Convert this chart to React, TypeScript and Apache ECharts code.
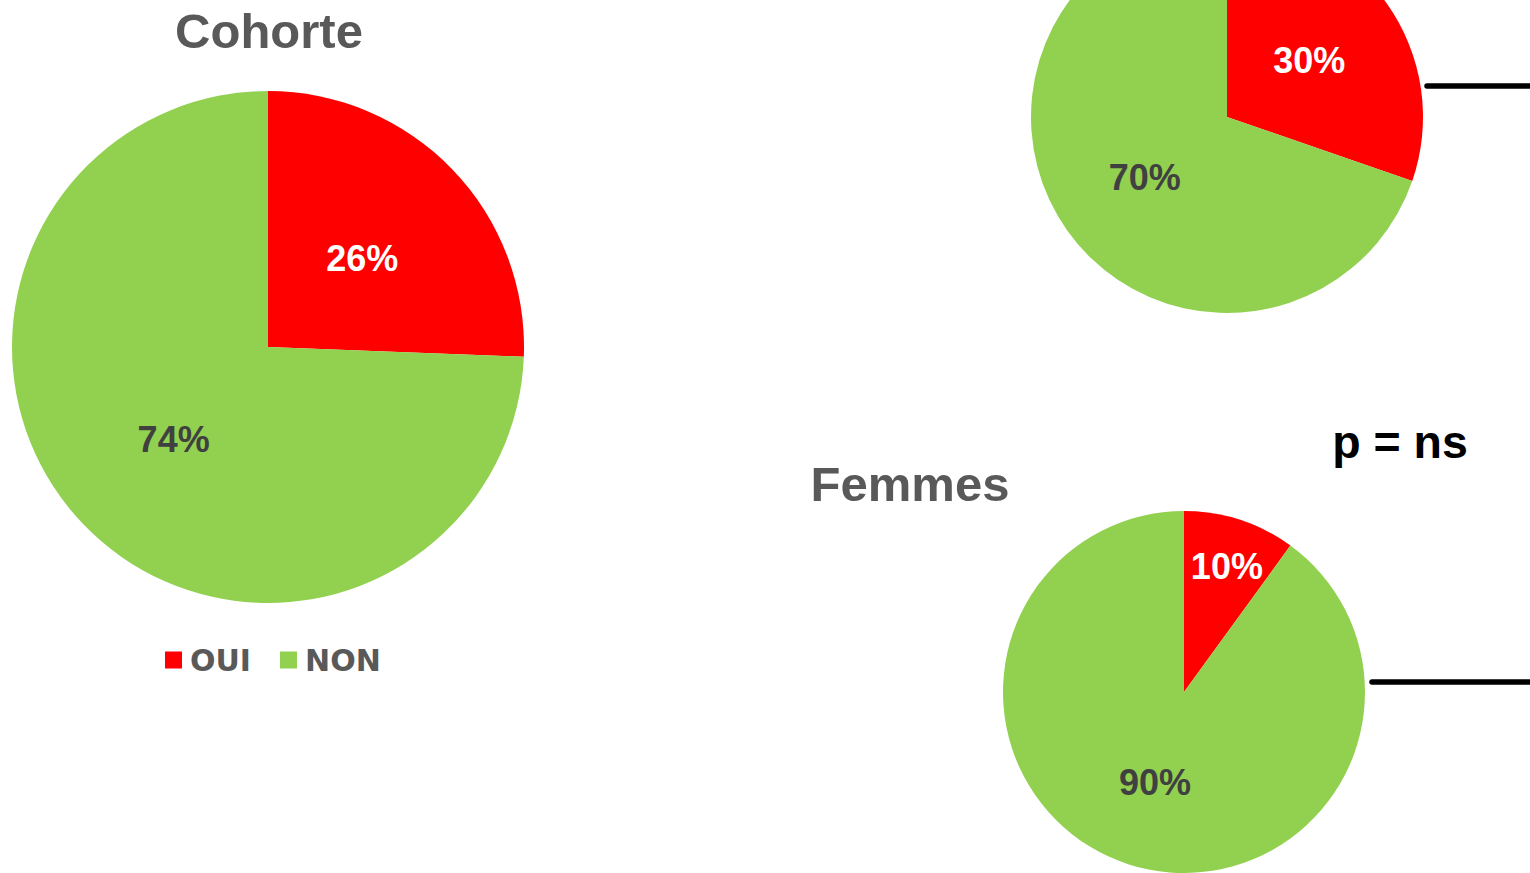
import React, { useEffect, useRef } from "react";
import * as echarts from "echarts";

const categories = ["OUI", "NON"];
const cohorteValues = [25.6, 74.4];
const hommesValues = [30.3, 69.7];
const femmesValues = [10, 90];
const colors = ["#FF0000", "#92D050"];
const labelColors = ["#FFFFFF", "#404040"];

const FONT = "'Liberation Sans', Arial, sans-serif";

function makeData(values: number[]) {
  return categories.map((name, i) => ({
    name,
    value: values[i],
    itemStyle: { color: colors[i] },
    label: { color: labelColors[i] },
  }));
}

function makePie(values: number[], center: number[], radius: number, extra?: (i: number) => any) {
  return {
    type: "pie",
    center,
    radius,
    startAngle: 90,
    clockwise: true,
    silent: true,
    label: {
      show: true,
      position: "inside",
      formatter: (p: any) => `${Math.round(p.value)}%`,
      fontFamily: FONT,
      fontWeight: "bold",
      fontSize: 36,
    },
    labelLine: { show: false },
    itemStyle: { borderWidth: 0 },
    labelLayout: (params: any) => {
      const base = { dx: 0, dy: 2 };
      const e = extra ? extra(params.dataIndex) : null;
      return e ? { dx: base.dx + e.dx, dy: base.dy + e.dy } : base;
    },
    data: makeData(values),
  };
}

export default function App() {
  const ref = useRef<HTMLDivElement>(null);
  useEffect(() => {
    document.body.style.margin = "0";
    const chart = echarts.init(ref.current!, null, { renderer: "svg" });
    chart.setOption({
      animation: false,
      backgroundColor: "#FFFFFF",
      legend: {
        data: categories,
        left: 160,
        top: 640,
        icon: "rect",
        itemWidth: 17,
        itemHeight: 17,
        itemGap: 29,
        selectedMode: false,
        textStyle: {
          fontFamily: "'DejaVu Sans', sans-serif",
          fontWeight: "bold",
          fontSize: 30,
          color: "#595959",
          padding: [0, 0, 0, 3],
        },
      },
      series: [
        makePie(cohorteValues, [268, 347], 256),
        makePie(hommesValues, [1227, 117], 196),
        makePie(femmesValues, [1184, 692], 181, (i: number) =>
          i === 0 ? { dx: 14, dy: -39 } : null
        ),
      ],
      graphic: [
        {
          type: "text",
          x: 269,
          y: 31,
          style: {
            text: "Cohorte",
            fontFamily: FONT,
            fontWeight: "bold",
            fontSize: 49,
            fill: "#595959",
            textAlign: "center",
            textVerticalAlign: "middle",
          },
        },
        {
          type: "text",
          x: 910,
          y: 484,
          style: {
            text: "Femmes",
            fontFamily: FONT,
            fontWeight: "bold",
            fontSize: 49,
            fill: "#595959",
            textAlign: "center",
            textVerticalAlign: "middle",
          },
        },
        {
          type: "text",
          x: 1400,
          y: 442,
          style: {
            text: "p = ns",
            fontFamily: FONT,
            fontWeight: "bold",
            fontSize: 46.5,
            fill: "#000000",
            textAlign: "center",
            textVerticalAlign: "middle",
          },
        },
        {
          type: "line",
          shape: { x1: 1427, y1: 86, x2: 1535, y2: 86 },
          style: { stroke: "#000000", lineWidth: 5.5, lineCap: "round" },
        },
        {
          type: "line",
          shape: { x1: 1372, y1: 682, x2: 1535, y2: 682 },
          style: { stroke: "#000000", lineWidth: 5.5, lineCap: "round" },
        },
      ],
    });
    return () => chart.dispose();
  }, []);
  return <div ref={ref} style={{ width: 1530, height: 873 }} />;
}
